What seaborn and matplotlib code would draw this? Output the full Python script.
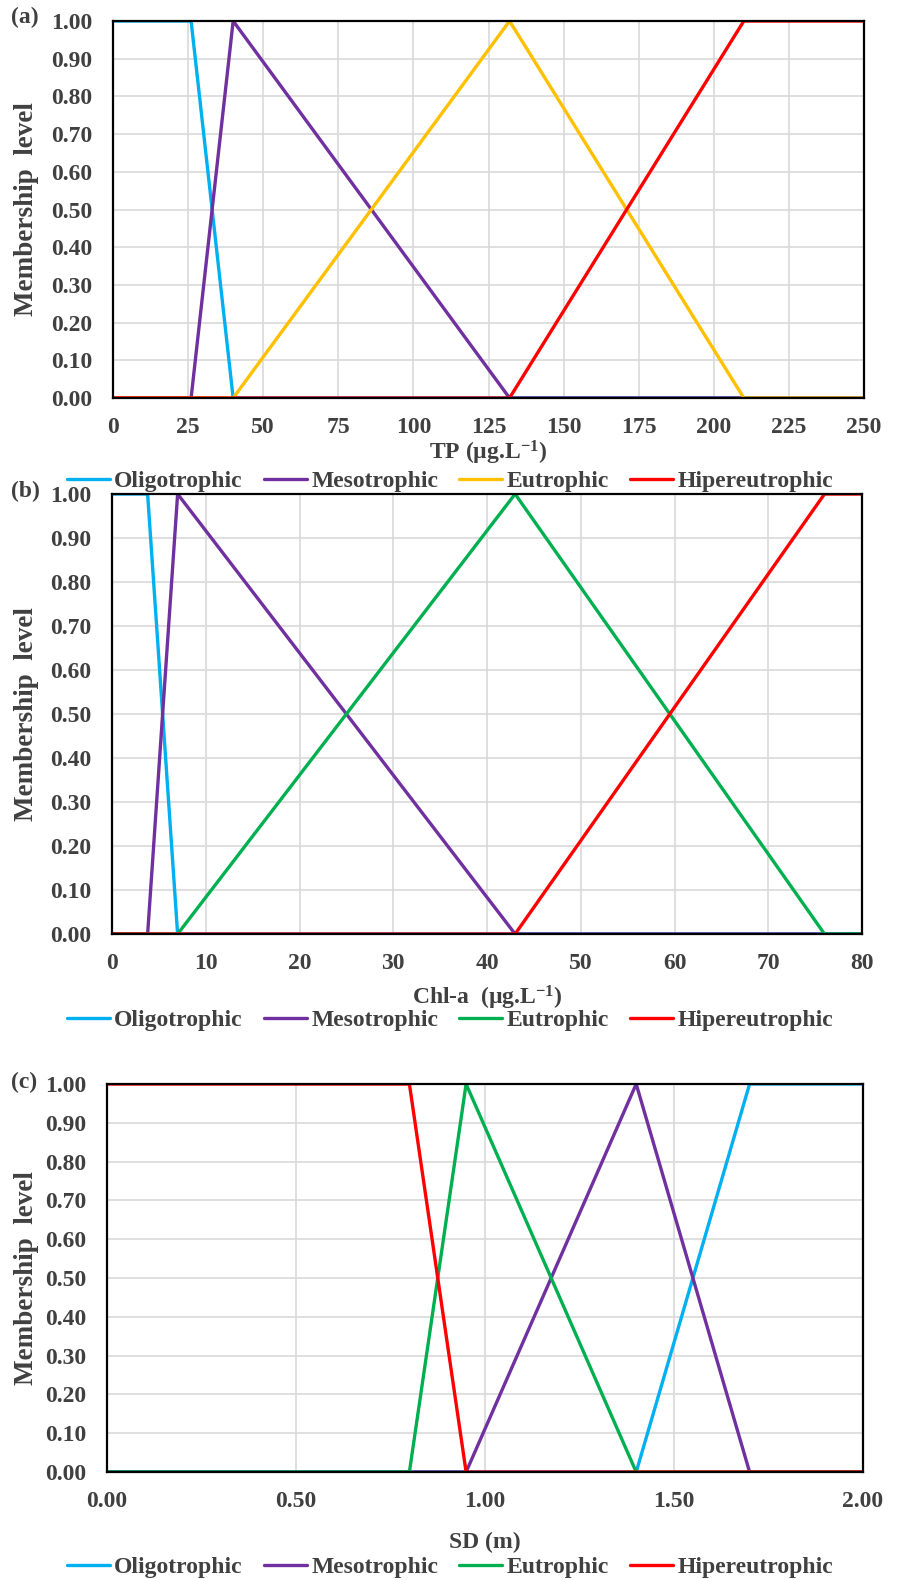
import matplotlib
matplotlib.use("Agg")
import matplotlib.pyplot as plt
import seaborn as sns
import pandas as pd

# ---------------- data ----------------
classes = ["Oligotrophic", "Mesotrophic", "Eutrophic", "Hipereutrophic"]

# Panel (a) TP
tp_oligo_x = [0, 26, 40, 250]
tp_oligo_y = [1, 1, 0, 0]
tp_meso_x = [0, 26, 40, 132, 250]
tp_meso_y = [0, 0, 1, 0, 0]
tp_eu_x = [0, 40, 132, 210, 250]
tp_eu_y = [0, 0, 1, 0, 0]
tp_hiper_x = [0, 132, 210, 250]
tp_hiper_y = [0, 0, 1, 1]

# Panel (b) Chl-a
chl_oligo_x = [0, 3.8, 7, 80]
chl_oligo_y = [1, 1, 0, 0]
chl_meso_x = [0, 3.8, 7, 43, 80]
chl_meso_y = [0, 0, 1, 0, 0]
chl_eu_x = [0, 7, 43, 76, 80]
chl_eu_y = [0, 0, 1, 0, 0]
chl_hiper_x = [0, 43, 76, 80]
chl_hiper_y = [0, 0, 1, 1]

# Panel (c) SD
sd_oligo_x = [0, 1.4, 1.7, 2.0]
sd_oligo_y = [0, 0, 1, 1]
sd_meso_x = [0, 0.95, 1.4, 1.7, 2.0]
sd_meso_y = [0, 0, 1, 0, 0]
sd_eu_x = [0, 0.8, 0.95, 1.4, 2.0]
sd_eu_y = [0, 0, 1, 0, 0]
sd_hiper_x = [0, 0.8, 0.95, 2.0]
sd_hiper_y = [1, 1, 0, 0]

tp_ticks = [0, 25, 50, 75, 100, 125, 150, 175, 200, 225, 250]
chl_ticks = [0, 10, 20, 30, 40, 50, 60, 70, 80]
sd_ticks = [0.0, 0.5, 1.0, 1.5, 2.0]
y_ticks = [0.0, 0.1, 0.2, 0.3, 0.4, 0.5, 0.6, 0.7, 0.8, 0.9, 1.0]

# ---------------- style ----------------
sns.set_style("white")
plt.rcParams["font.family"] = ["Liberation Serif", "DejaVu Serif"]
plt.rcParams["font.weight"] = "bold"
plt.rcParams["mathtext.fontset"] = "custom"
plt.rcParams["mathtext.rm"] = "Liberation Serif:bold"
plt.rcParams["mathtext.bf"] = "Liberation Serif:bold"
plt.rcParams["mathtext.it"] = "Liberation Serif:bold"

TXT = "#404040"
FS = 17


def make_df(xs_list, ys_list):
    frames = []
    for cls, xs, ys in zip(classes, xs_list, ys_list):
        frames.append(pd.DataFrame({"x": xs, "y": ys, "cls": cls}))
    return pd.concat(frames, ignore_index=True)


fig = plt.figure(figsize=(9, 15.8), dpi=100)
W, H = 900, 1580


def add_ax(left, right, top, bottom):
    return fig.add_axes([left / W, 1 - bottom / H, (right - left) / W, (bottom - top) / H])


panels = [
    dict(box=(113, 864, 21, 398),
         df=make_df([tp_oligo_x, tp_meso_x, tp_eu_x, tp_hiper_x],
                    [tp_oligo_y, tp_meso_y, tp_eu_y, tp_hiper_y]),
         colors=["#00B0F0", "#7030A0", "#FFC000", "#FF0000"],
         xticks=tp_ticks, xlim=(0, 250), fmt=lambda v: f"{v:d}",
         xlabel="TP (µg.L$^{-1}$)", label="(a)", label_y=17,
         xlabel_y=453, legend_y=481),
    dict(box=(112, 862, 494, 934),
         df=make_df([chl_oligo_x, chl_meso_x, chl_eu_x, chl_hiper_x],
                    [chl_oligo_y, chl_meso_y, chl_eu_y, chl_hiper_y]),
         colors=["#00B0F0", "#7030A0", "#00B050", "#FF0000"],
         xticks=chl_ticks, xlim=(0, 80), fmt=lambda v: f"{v:d}",
         xlabel="Chl-a  (µg.L$^{-1}$)", label="(b)", label_y=491,
         xlabel_y=998, legend_y=1020),
    dict(box=(107, 863, 1084, 1472),
         df=make_df([sd_oligo_x, sd_meso_x, sd_eu_x, sd_hiper_x],
                    [sd_oligo_y, sd_meso_y, sd_eu_y, sd_hiper_y]),
         colors=["#00B0F0", "#7030A0", "#00B050", "#FF0000"],
         xticks=sd_ticks, xlim=(0, 2.0), fmt=lambda v: f"{v:.2f}",
         xlabel="SD (m)", label="(c)", label_y=1082,
         xlabel_y=1542, legend_y=1567),
]

for p in panels:
    l, r, t, b = p["box"]
    ax = add_ax(l, r, t, b)
    sns.lineplot(data=p["df"], x="x", y="y", hue="cls", hue_order=classes,
                 palette=p["colors"], estimator=None, sort=False,
                 linewidth=2.4, ax=ax, legend=True)
    handles, labels = ax.get_legend_handles_labels()
    ax.get_legend().remove()
    ax.set_xlim(*p["xlim"])
    ax.set_ylim(0, 1.0)
    ax.set_xticks(p["xticks"])
    ax.set_xticklabels([p["fmt"](v) for v in p["xticks"]])
    ax.set_yticks(y_ticks)
    ax.set_yticklabels([f"{v:.2f}" for v in y_ticks])
    ax.grid(True, color="#d9d9d9", linewidth=1.2)
    ax.set_axisbelow(True)
    for s in ax.spines.values():
        s.set_visible(True)
        s.set_color("black")
        s.set_linewidth(1.6)
    ax.tick_params(axis="both", length=0, labelsize=FS, labelcolor=TXT)
    ax.tick_params(axis="y", pad=15)
    ax.tick_params(axis="x", pad=14)
    for tl in ax.get_xticklabels() + ax.get_yticklabels():
        tl.set_fontweight("bold")
    ax.set_xlabel("")
    ax.set_ylabel("")
    # axis labels
    fig.text((l + r) / 2 / W, 1 - p["xlabel_y"] / H, p["xlabel"], ha="center", va="center",
             fontsize=FS, color=TXT, fontweight="bold")
    fig.text(27 / W, 1 - (t + b) / 2 / H, "Membership  level", rotation=90,
             ha="center", va="center", fontsize=19.5, color=TXT, fontweight="bold")
    fig.text(11 / W, 1 - p["label_y"] / H, p["label"], ha="left", va="center",
             fontsize=FS, color=TXT, fontweight="bold")
    leg = fig.legend(handles, labels, loc="center", bbox_to_anchor=(0.5, 1 - p["legend_y"] / H),
                     ncol=4, frameon=False, handlelength=1.8, handletextpad=0.2,
                     columnspacing=0.9, fontsize=FS, borderaxespad=0, borderpad=0)
    for txt in leg.get_texts():
        txt.set_color(TXT)
        txt.set_fontweight("bold")
    for lh in leg.get_lines():
        lh.set_linewidth(2.4)

fig.savefig("out.png", dpi=100)
